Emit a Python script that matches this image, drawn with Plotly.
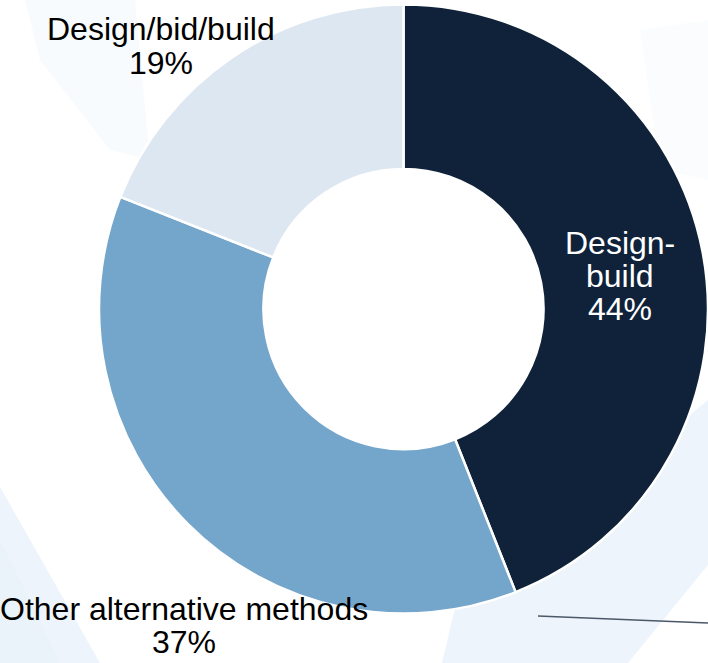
import plotly.graph_objects as go

# ---- data ----
labels = ["Design-build", "Other alternative methods", "Design/bid/build"]
values = [44, 37, 19]
display_labels = ["Design-<br>build", "Other alternative methods", "Design/bid/build"]

# ---- style ----
colors = ["#0f2239", "#74a5cb", "#dde7f2"]
text_colors = ["white", "black", "black"]
label_centers_px = [(620, 276), (184, 625), (161, 46)]

W, H = 708, 663
FONT = "Liberation Sans, Arial, sans-serif"
FS = 32
LINE = 33

fig = go.Figure()
fig.add_trace(go.Pie(
    labels=labels,
    values=values,
    sort=False,
    direction="clockwise",
    rotation=0,
    hole=0.46,
    textinfo="none",
    hoverinfo="label+percent",
    marker=dict(colors=colors, line=dict(color="white", width=2.5)),
    domain=dict(x=[99 / W, 1.0], y=[1 - 615 / H, 1 - 3 / H]),
    showlegend=False,
))

total = sum(values)
annotations = []
for lab, val, col, (cx, cy) in zip(display_labels, values, text_colors, label_centers_px):
    lines = lab.split("<br>") + [f"{round(100 * val / total)}%"]
    n = len(lines)
    for i, ln in enumerate(lines):
        py = cy + (i - (n - 1) / 2) * LINE
        annotations.append(dict(
            x=cx / W, y=1 - py / H, xref="paper", yref="paper",
            text=ln, showarrow=False, xanchor="center", yanchor="middle",
            font=dict(family=FONT, size=FS, color=col),
        ))


def poly(pts, color, opacity):
    path = "M " + " L ".join(f"{x / W:.4f},{1 - y / H:.4f}" for x, y in pts) + " Z"
    return dict(type="path", xref="paper", yref="paper", path=path,
                fillcolor=color, opacity=opacity, line=dict(width=0), layer="below")


# faint watermark background
wm = "#e8f1fa"
shapes = [
    poly([(0, 487), (0, 663), (100, 663)], wm, 0.8),
    poly([(0, 540), (0, 663), (60, 663)], wm, 0.6),
    poly([(455, 608), (708, 400), (708, 565), (628, 663), (442, 663)], wm, 0.8),
    poly([(25, 0), (135, 0), (150, 160), (110, 150), (40, 60)], wm, 0.3),
    poly([(640, 30), (708, 20), (708, 180), (660, 170)], wm, 0.2),
    dict(type="line", xref="paper", yref="paper",
         x0=538 / W, y0=1 - 616 / H, x1=1.0, y1=1 - 623 / H,
         line=dict(color="#4a5868", width=1.5)),
]

fig.update_layout(
    width=W, height=H,
    margin=dict(l=0, r=0, t=0, b=0),
    paper_bgcolor="white",
    plot_bgcolor="white",
    annotations=annotations,
    shapes=shapes,
)

fig.write_html("out.html")
